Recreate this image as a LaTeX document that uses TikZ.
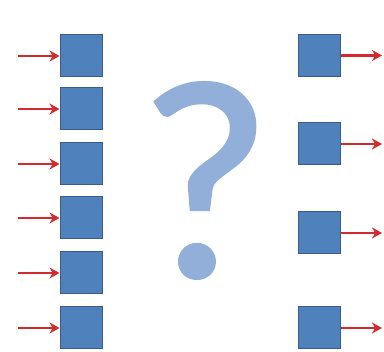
\documentclass[tikz,border=0pt]{standalone}
\usepackage{fontspec}
\newfontfamily\qfont[FakeBold=1.2]{Carlito}
\usetikzlibrary{arrows.meta}
\definecolor{boxfill}{HTML}{4F81BD}
\definecolor{boxline}{HTML}{385D8A}
\definecolor{arrowred}{HTML}{D42A2F}
\definecolor{qblue}{HTML}{92AFD9}
\tikzset{
  sq/.style={draw=boxline, line width=1pt, fill=boxfill, minimum size=42pt, inner sep=0pt},
  redarrow/.style={draw=arrowred, line width=2.6pt, -{Stealth[length=10pt,width=11pt]}},
}
\begin{document}
\begin{tikzpicture}[x=1pt,y=-1pt]
\useasboundingbox (0,0) rectangle (384,352);
\fill[white] (0,0) rectangle (384,352);
% left column
\foreach \i/\y in {1/56,2/109,3/164,4/218,5/273,6/328}{
  \node[sq] (L\i) at (81,\y) {};
  \coordinate (LS\i) at (18,\y);
  \draw[redarrow] (LS\i) -- (L\i.west);
}
% right column
\foreach \i/\y in {1/55.5,2/144,3/233,4/328}{
  \node[sq] (R\i) at (319.5,\y) {};
  \coordinate (RE\i) at (382,\y);
  \draw[redarrow] (R\i.east) -- (RE\i);
}
% question mark
\node[text=qblue, inner sep=0pt, xscale=0.93, yscale=0.915] (q) at (205,180.5) {\qfont\fontsize{310}{310}\selectfont ?};
\end{tikzpicture}
\end{document}
